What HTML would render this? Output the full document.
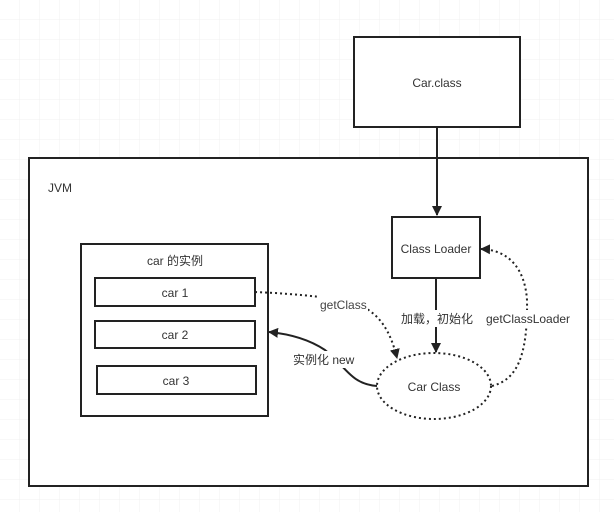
<!DOCTYPE html>
<html><head><meta charset="utf-8"><style>
body{margin:0;background:#fff}
svg{display:block}
text{font-family:"Liberation Sans","Noto Sans CJK SC",sans-serif;font-size:12px;fill:#333}
</style></head><body>
<svg width="614" height="512" viewBox="0 0 614 512" xmlns="http://www.w3.org/2000/svg">
<defs>
<pattern id="g" width="20" height="20" patternUnits="userSpaceOnUse">
<path d="M20 0V20M0 20H20" fill="none" stroke="#f0f0f0" stroke-width="1"/>
</pattern>
<marker id="a" viewBox="0 0 10 10" refX="9" refY="5" markerWidth="10" markerHeight="10" orient="auto-start-reverse" markerUnits="userSpaceOnUse">
<path d="M0 0L10 5L0 10z" fill="#222"/>
</marker>
</defs>
<rect width="614" height="512" fill="url(#g)"/>
<g fill="#fff" stroke="#222" stroke-width="2">
<rect x="354" y="37" width="166" height="90"/>
<rect x="29" y="158" width="559" height="328"/>
<rect x="392" y="217" width="88" height="61"/>
<rect x="81" y="244" width="187" height="172"/>
<rect x="95" y="278" width="160" height="28"/>
<rect x="95" y="321" width="160" height="27"/>
<rect x="97" y="366" width="159" height="28"/>
</g>
<ellipse cx="434" cy="386" rx="57" ry="33" fill="#fff" stroke="#222" stroke-width="2" stroke-dasharray="2 3"/>
<g fill="none" stroke="#222" stroke-width="2">
<path d="M437 127V215" marker-end="url(#a)"/>
<path d="M436 278V352" marker-end="url(#a)"/>
<path d="M255 292C300 294 340 298 360 305C380 315 390 330 397 358" stroke-dasharray="2 3" marker-end="url(#a)"/>
<path d="M492 386C515 380 528 360 527 300C525 270 510 250 481 249" stroke-dasharray="2 3" marker-end="url(#a)"/>
<path d="M377 386C350 384 345 365 325 350C310 340 290 334 269 332" marker-end="url(#a)"/>
</g>
<g fill="#fff">
<rect x="318" y="296" width="50" height="17"/>
<rect x="399" y="310" width="76" height="17"/>
<rect x="484" y="310" width="88" height="17"/>
<rect x="291" y="351" width="66" height="17"/>
</g>
<g text-anchor="middle">
<text x="437" y="87">Car.class</text>
<text x="436" y="253">Class Loader</text>
<text x="175" y="265">car 的实例</text>
<text x="175" y="297">car 1</text>
<text x="175" y="339">car 2</text>
<text x="176" y="385">car 3</text>
<text x="434" y="391">Car Class</text>
</g>
<text x="48" y="192">JVM</text>
<text x="320" y="309" style="fill:#444">getClass</text>
<text x="401" y="323">加载，初始化</text>
<text x="486" y="323">getClassLoader</text>
<text x="293" y="364">实例化 new</text>
</svg>
</body></html>
